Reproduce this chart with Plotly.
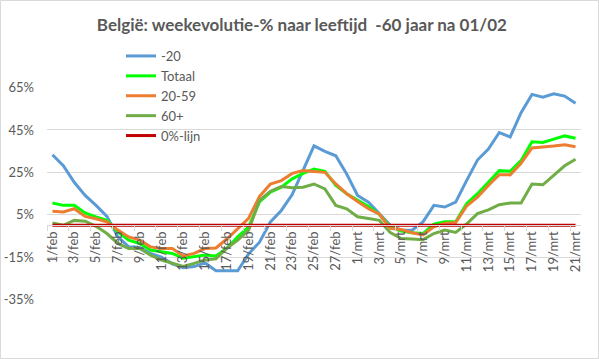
import plotly.graph_objects as go

feb_days = list(range(1, 29))
mrt_days = list(range(1, 22))
dates = [f"{d}/feb" for d in feb_days] + [f"{d}/mrt" for d in mrt_days]

min20 = [33.3, 28.1, 20.3, 14.1, 9.4, 4.2, -5.5, -10.2, -10.5, -13.3,
         -15.0, -18.2, -20.0, -19.5, -17.8, -21.5, -21.5, -21.5, -13.5, -8.0,
         1.6, 7.0, 14.5, 25.8, 37.5, 34.9, 32.8, 24.2, 14.1, 10.9,
         5.5, 0.0, -2.3, -2.3, 1.6, 9.4, 8.6, 10.9, 21.1, 30.8,
         36.0, 43.8, 41.7, 53.2, 61.8, 60.5, 62.1, 61.0, 57.6]
totaal = [10.5, 9.4, 9.4, 5.8, 3.9, 2.3, -3.1, -7.0, -8.6, -11.7,
          -12.5, -13.3, -15.6, -14.9, -14.1, -14.5, -10.9, -5.5, -0.8, 11.0,
          15.6, 18.0, 21.9, 24.5, 26.6, 25.5, 18.8, 14.9, 11.7, 8.9,
          5.0, -0.8, -2.7, -3.5, -3.9, 0.5, 1.6, 1.6, 10.2, 14.9,
          20.3, 25.8, 25.5, 30.5, 39.4, 39.1, 40.7, 42.2, 41.1]
g20_59 = [6.6, 6.3, 7.8, 4.2, 3.1, 1.6, -2.3, -5.5, -7.0, -10.2,
          -11.0, -11.0, -14.5, -13.3, -11.0, -10.7, -6.5, -1.5, 3.3, 13.6,
          19.5, 21.1, 24.5, 25.8, 25.5, 25.0, 19.5, 14.9, 11.2, 7.8,
          5.2, -1.5, -2.0, -3.5, -4.6, -0.7, 0.8, 1.3, 9.0, 13.3,
          18.8, 23.9, 23.8, 29.3, 36.5, 36.8, 37.4, 38.0, 37.1]
g60plus = [1.1, 0.0, 2.3, 1.9, -0.5, -3.9, -8.6, -11.0, -11.0, -14.1,
           -16.4, -18.0, -19.5, -18.0, -16.4, -15.8, -10.9, -7.0, -2.3, 11.7,
           16.1, 18.3, 17.7, 18.0, 19.5, 17.2, 9.4, 7.8, 4.0, 3.2,
           2.3, -3.5, -6.3, -6.5, -6.8, -3.9, -2.3, -3.4, 0.6, 5.5,
           7.3, 9.7, 10.5, 10.5, 19.5, 19.1, 23.5, 28.1, 31.2]
nul_lijn = [0.0] * len(dates)

y_ticks = [-35, -15, 5, 25, 45, 65]
y_ticktext = [f"{v}%" for v in y_ticks]

series = [
    ("-20", min20, "#5B9BD5"),
    ("Totaal", totaal, "#00FF00"),
    ("20-59", g20_59, "#ED7D31"),
    ("60+", g60plus, "#70AD47"),
    ("0%-lijn", nul_lijn, "#C00000"),
]

fig = go.Figure()
for name, vals, col in series:
    fig.add_trace(go.Scatter(x=dates, y=vals, mode="lines", name=name,
                             line=dict(color=col, width=3)))

W, H = 599, 359
ml, mr, mt, mb = 47, 18, 87, 59
pw, ph = W - ml - mr, H - mt - mb
ylo, yhi = -35.3, 65.3
zero_pos = (0 - ylo) / (yhi - ylo)

font = "Lato, Carlito, Calibri, sans-serif"
fig.update_layout(
    width=W, height=H,
    margin=dict(l=ml, r=mr, t=mt, b=mb, autoexpand=False),
    paper_bgcolor="white", plot_bgcolor="white",
    font=dict(family=font, size=13, color="#595959"),
    title=dict(text="<b>België: weekevolutie-% naar leeftijd  -60 jaar na 01/02</b>",
               x=0.504, xref="container", xanchor="center",
               y=1 - 25 / H, yref="container", yanchor="middle",
               font=dict(family=font, size=17, color="#595959")),
    showlegend=True,
    legend=dict(x=(121 - ml) / pw, y=1 + (87 - 41) / ph, xanchor="left", yanchor="top",
                bgcolor="rgba(0,0,0,0)", font=dict(size=13, color="#595959"),
                itemwidth=30, tracegroupgap=0),
    xaxis=dict(type="category", range=[-0.5, len(dates) - 0.5],
               tickmode="linear", tick0=0, dtick=2, tickson="boundaries",
               tickangle=-90, showgrid=False, showline=True, linecolor="#D9D9D9",
               ticks="outside", ticklen=5, tickcolor="#D9D9D9",
               anchor="free", position=zero_pos,
               tickfont=dict(size=13, color="#595959")),
    yaxis=dict(range=[ylo, yhi], tickvals=y_ticks, ticktext=y_ticktext,
               showgrid=True, gridcolor="#D9D9D9", gridwidth=1, zeroline=False,
               showline=False, ticks="", ticklabelstandoff=12,
               tickfont=dict(size=13, color="#595959")),
    shapes=[dict(type="rect", xref="paper", yref="paper",
                 x0=(0.5 - ml) / pw, x1=(W - 0.5 - ml) / pw,
                 y0=(H - mb - (H - 0.5)) / ph, y1=(H - mb - 0.5) / ph,
                 line=dict(color="#D9D9D9", width=1), fillcolor="rgba(0,0,0,0)",
                 layer="below")],
)

fig.write_html("out.html", config={"displayModeBar": False},
               post_script="document.body.style.margin='0';document.body.style.overflow='hidden';")
